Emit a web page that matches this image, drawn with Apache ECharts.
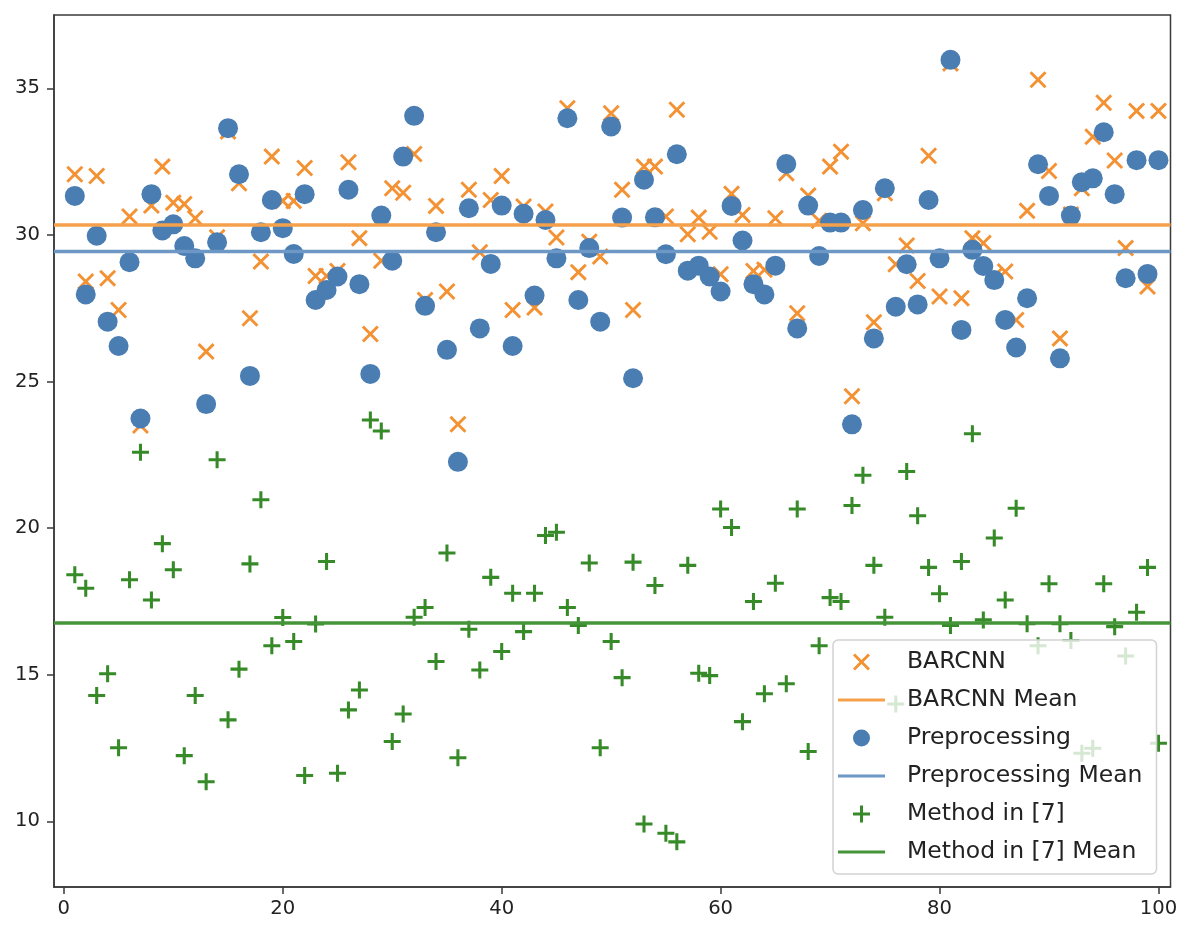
<!DOCTYPE html>
<html>
<head>
<meta charset="utf-8">
<script src="https://cdn.jsdelivr.net/npm/echarts@6/dist/echarts.min.js"></script>
<style>html,body{margin:0;padding:0;background:#fff}#c{width:1194px;height:932px}</style>
</head>
<body>
<div id="c"></div>
<script>
const sampleIndex = [1,2,3,4,5,6,7,8,9,10,11,12,13,14,15,16,17,18,19,20,21,22,23,24,25,26,27,28,29,30,31,32,33,34,35,36,37,38,39,40,41,42,43,44,45,46,47,48,49,50,51,52,53,54,55,56,57,58,59,60,61,62,63,64,65,66,67,68,69,70,71,72,73,74,75,76,77,78,79,80,81,82,83,84,85,86,87,88,89,90,91,92,93,94,95,96,97,98,99,100];

const barcnn = [32.07,28.41,32.01,28.52,27.44,30.63,23.5,31.0,32.33,31.1,
31.05,30.57,26.02,29.92,33.53,31.76,27.16,29.09,32.67,31.16,
31.16,32.28,28.6,28.6,28.77,32.48,29.89,26.62,29.12,31.59,
31.44,32.76,27.78,30.99,28.07,23.54,31.54,29.41,31.19,32.01,
27.44,30.97,27.52,30.8,29.91,34.32,28.73,29.77,29.26,34.15,
31.54,27.44,32.33,32.33,30.63,34.27,30.02,30.59,30.11,28.66,
31.4,30.68,28.77,28.81,30.57,32.1,27.33,31.34,30.48,32.33,
32.84,24.5,30.4,27.02,31.42,29.0,29.64,28.43,32.7,27.9,
35.85,27.84,29.89,29.72,28.6,28.75,27.1,30.82,35.29,32.18,
26.47,30.7,31.59,33.35,34.51,32.54,29.55,34.23,28.24,34.23];

const preprocessing = [31.33,27.97,29.97,27.04,26.21,29.07,23.74,31.39,30.15,30.36,
29.62,29.2,24.23,29.75,33.64,32.07,25.19,30.09,31.19,30.23,
29.35,31.39,27.78,28.12,28.58,31.54,28.32,25.26,30.66,29.12,
32.67,34.06,27.58,30.09,26.08,22.26,30.91,26.81,29.01,31.0,
26.21,30.72,27.93,30.51,29.2,33.98,27.78,29.55,27.04,33.7,
30.59,25.11,31.88,30.6,29.34,32.75,28.78,28.95,28.58,28.07,
30.99,29.81,28.32,27.97,28.95,32.42,26.81,31.0,29.28,30.42,
30.42,23.54,30.85,26.47,31.59,27.55,29.0,27.63,31.19,29.2,
35.97,26.76,29.49,28.94,28.46,27.1,26.16,27.84,32.41,31.33,
25.79,30.66,31.8,31.93,33.5,31.39,28.52,32.55,28.67,32.55];

const method7 = [18.41,17.95,14.29,15.03,12.51,18.24,22.59,17.55,19.47,18.58,
12.24,14.29,11.35,22.33,13.46,15.19,18.78,20.97,15.99,16.95,
16.13,11.56,16.73,18.86,11.64,13.8,14.48,23.69,23.31,12.72,
13.66,16.96,17.29,15.45,19.15,12.17,16.55,15.16,18.32,15.79,
17.78,16.47,17.78,19.75,19.86,17.29,16.68,18.81,12.51,16.13,
14.9,18.84,9.91,18.04,9.59,9.3,18.73,15.05,14.97,20.65,
20.02,13.4,17.5,14.35,18.12,14.69,20.65,12.38,15.99,17.63,
17.5,20.77,21.8,18.73,16.96,14.0,21.93,20.42,18.66,17.76,
16.68,18.86,23.22,16.87,19.66,17.55,20.68,16.74,15.99,18.1,
16.74,16.17,12.32,12.49,18.1,16.64,15.64,17.13,18.66,12.66];

const meanValues = [30.34, 29.43, 16.76];   // BARCNN, Preprocessing, Method in [7]
const seriesNames = ['BARCNN', 'BARCNN Mean', 'Preprocessing', 'Preprocessing Mean', 'Method in [7]', 'Method in [7] Mean'];
const xTicks = [0, 20, 40, 60, 80, 100];
const yTicks = [10, 15, 20, 25, 30, 35];

const X_MIN = -0.9, X_MAX = 101.1, Y_MIN = 7.76, Y_MAX = 37.5;

const ORANGE = '#f39133', BLUE = '#4a7db2', GREEN = '#368a28';
const ORANGE_L = '#f5a04a', BLUE_L = '#6d97c4', GREEN_L = '#46943a';

const xPath = 'path://M0,12 L12,0 L50,38 L88,0 L100,12 L62,50 L100,88 L88,100 L50,62 L12,100 L0,88 L38,50 Z';
const plusPath = 'path://M41,0 H59 V41 H100 V59 H59 V100 H41 V59 H0 V41 H41 Z';
const linePath = 'path://M0,0 L100,0 L100,6.5 L0,6.5 Z';

function pts(vals) { return sampleIndex.map((x, i) => [x, vals[i]]); }
function meanLine(v) { return [[X_MIN, v], [X_MAX, v]]; }

const chart = echarts.init(document.getElementById('c'), null, {renderer: 'canvas'});
const font = 'DejaVu Sans';

chart.setOption({
  animation: false,
  backgroundColor: '#fff',
  textStyle: {fontFamily: font},
  grid: {left: 54, right: 23.5, top: 15, bottom: 45, show: true, borderColor: '#3a3a3a', borderWidth: 1.5, backgroundColor: 'transparent'},
  xAxis: {
    type: 'value', min: X_MIN, max: X_MAX,
    splitLine: {show: false},
    axisLine: {show: true, onZero: false, lineStyle: {color: '#3a3a3a', width: 1.5}},
    axisTick: {show: true, length: 7, customValues: xTicks, lineStyle: {color: '#3a3a3a', width: 1.5}},
    axisLabel: {customValues: xTicks, margin: 12, fontSize: 19.6, color: '#222', fontFamily: font}
  },
  yAxis: {
    type: 'value', min: Y_MIN, max: Y_MAX,
    splitLine: {show: false},
    axisLine: {show: true, onZero: false, lineStyle: {color: '#3a3a3a', width: 1.5}},
    axisTick: {show: true, length: 7, customValues: yTicks, lineStyle: {color: '#3a3a3a', width: 1.5}},
    axisLabel: {customValues: yTicks, margin: 14, fontSize: 19.6, color: '#222', fontFamily: font}
  },
  legend: {
    orient: 'vertical', left: 833, top: 640,
    padding: [9, 14, 9, 5],
    itemWidth: 47, itemHeight: 17, itemGap: 12,
    backgroundColor: 'rgba(255,255,255,0.8)',
    borderColor: '#d2d2d2', borderWidth: 1.5, borderRadius: 5,
    selectedMode: false,
    textStyle: {fontSize: 23.5, lineHeight: 26, color: '#222', fontFamily: font, padding: [0, 0, 0, 17]},
    data: [
      {name: seriesNames[0], icon: xPath},
      {name: seriesNames[1], icon: linePath},
      {name: seriesNames[2], icon: 'circle'},
      {name: seriesNames[3], icon: linePath},
      {name: seriesNames[4], icon: plusPath},
      {name: seriesNames[5], icon: linePath}
    ]
  },
  series: [
    {name: seriesNames[0], type: 'scatter', symbol: xPath, symbolSize: 17, itemStyle: {color: ORANGE, opacity: 1}, data: pts(barcnn)},
    {name: seriesNames[1], type: 'line', symbol: 'none', color: ORANGE_L, lineStyle: {color: ORANGE_L, width: 3.5}, data: meanLine(meanValues[0])},
    {name: seriesNames[2], type: 'scatter', symbol: 'circle', symbolSize: 20, itemStyle: {color: BLUE, opacity: 1}, data: pts(preprocessing)},
    {name: seriesNames[3], type: 'line', symbol: 'none', color: BLUE_L, lineStyle: {color: BLUE_L, width: 3.5}, data: meanLine(meanValues[1])},
    {name: seriesNames[4], type: 'scatter', symbol: plusPath, symbolSize: 17, itemStyle: {color: GREEN, opacity: 1}, data: pts(method7)},
    {name: seriesNames[5], type: 'line', symbol: 'none', color: GREEN_L, lineStyle: {color: GREEN_L, width: 3.5}, data: meanLine(meanValues[2])}
  ]
});
</script>
</body>
</html>
